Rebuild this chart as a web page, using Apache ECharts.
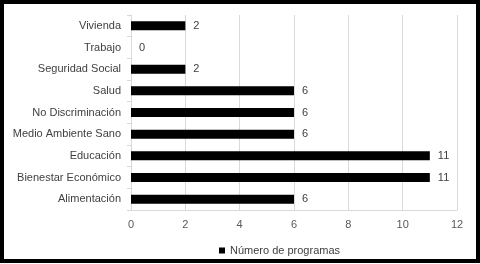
<!DOCTYPE html>
<html>
<head>
<meta charset="utf-8">
<script src="https://cdn.jsdelivr.net/npm/echarts@6/dist/echarts.min.js"></script>
<style>
html,body{margin:0;padding:0;background:#fff;}
#c{width:480px;height:264px;}
</style>
</head>
<body>
<div id="c"></div>
<script>
const categories = ['Alimentación','Bienestar Económico','Educación','Medio Ambiente Sano','No Discriminación','Salud','Seguridad Social','Trabajo','Vivienda'];
const values = [6, 11, 11, 6, 6, 6, 2, 0, 2];
const seriesName = 'Número de programas';
const xTicks = {min: 0, max: 12, interval: 2};

const font = 'Liberation Sans, Arial, sans-serif';
const chart = echarts.init(document.getElementById('c'), null, {renderer: 'canvas'});
chart.setOption({
  animation: false,
  backgroundColor: '#fff',
  grid: {left: 131, right: 23, top: 15, bottom: 54, containLabel: false},
  xAxis: {
    type: 'value', min: xTicks.min, max: xTicks.max, interval: xTicks.interval,
    axisLine: {show: true, lineStyle: {color: '#d9d9d9', width: 1}},
    axisTick: {show: false},
    splitLine: {show: true, lineStyle: {color: '#d9d9d9', width: 1}},
    axisLabel: {color: '#595959', fontSize: 11, fontFamily: font, margin: 9}
  },
  yAxis: {
    type: 'category', data: categories,
    axisLine: {show: true, lineStyle: {color: '#d9d9d9', width: 1}},
    axisTick: {show: true, length: 4, lineStyle: {color: '#d9d9d9'}},
    axisLabel: {color: '#404040', fontSize: 11, fontFamily: font, margin: 10}
  },
  legend: {
    data: [seriesName], left: 214, top: 240,
    icon: 'rect', itemWidth: 6, itemHeight: 6, itemGap: 4,
    textStyle: {color: '#404040', fontSize: 11, fontFamily: font}
  },
  series: [{
    name: seriesName, type: 'bar', data: values, barWidth: 9,
    itemStyle: {color: '#000'},
    label: {show: true, position: 'right', distance: 8, color: '#404040', fontSize: 11, fontFamily: font}
  }],
  graphic: [{
    type: 'rect', shape: {x: 2, y: 2, width: 476, height: 259},
    style: {fill: 'none', stroke: '#000', lineWidth: 4}, z: 100
  }]
});
</script>
</body>
</html>
